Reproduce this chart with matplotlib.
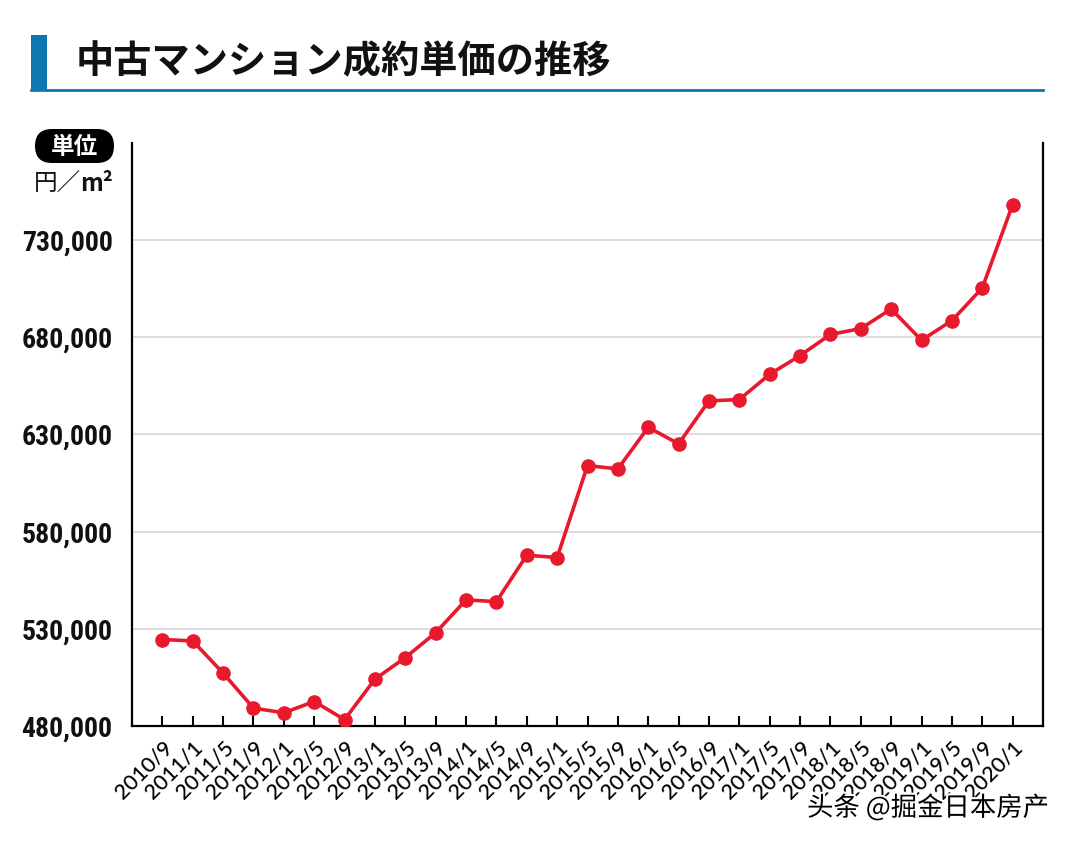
import matplotlib
matplotlib.use('Agg')
import matplotlib.pyplot as plt
from matplotlib.patches import Rectangle, FancyBboxPatch
from matplotlib.lines import Line2D
from matplotlib import font_manager
import matplotlib.patheffects as pe

# ---- data ----
periods = ["2010/9", "2011/1", "2011/5", "2011/9", "2012/1", "2012/5", "2012/9",
           "2013/1", "2013/5", "2013/9", "2014/1", "2014/5", "2014/9", "2015/1",
           "2015/5", "2015/9", "2016/1", "2016/5", "2016/9", "2017/1", "2017/5",
           "2017/9", "2018/1", "2018/5", "2018/9", "2019/1", "2019/5", "2019/9",
           "2020/1"]
prices = [524500, 523800, 507200, 489200, 486800, 492600, 483300,
          504100, 515200, 528000, 544900, 544000, 567900, 566700,
          614000, 612300, 633700, 625200, 647300, 648000, 661000,
          670600, 681500, 684500, 694600, 678500, 688600, 705400,
          748300]
yticks = [480000, 530000, 580000, 630000, 680000, 730000]
ytick_labels = ["480,000", "530,000", "580,000", "630,000", "680,000", "730,000"]
title = "中古マンション成約単価の推移"
unit_badge = "単位"
watermark = "头条 @掘金日本房产"

W, H = 1080, 846
fig = plt.figure(figsize=(W / 100, H / 100), dpi=100)


def fx(x):
    return x / W


def fy(y):
    return 1 - y / H


names = {f.name for f in font_manager.fontManager.ttflist}
if 'Roboto Condensed' in names:
    cond_font, ysize = 'Roboto Condensed', 20
elif 'Liberation Sans Narrow' in names:
    cond_font, ysize = 'Liberation Sans Narrow', 20
else:
    cond_font, ysize = 'Roboto', 15
jp = ['Noto Sans CJK JP', 'DejaVu Sans']

red = '#E8192C'
blue = '#0E77B0'

ax = fig.add_axes([fx(132), fy(726), fx(1043) - fx(132), fy(143) - fy(726)])
x = list(range(len(periods)))
ax.plot(x, prices, color=red, lw=2.6, marker='o', ms=9.5, mfc=red, mec=red, zorder=3,
        solid_joinstyle='miter')
ax.set_xlim(-1, len(periods))
ax.set_ylim(480000, 780000)
ax.set_yticks(yticks)
ax.set_yticklabels(ytick_labels)
ax.set_xticks(x)
ax.set_xticklabels(periods, rotation=45, ha='right', rotation_mode='anchor',
                   family=['Lato', 'DejaVu Sans'], fontsize=15.5, fontweight='medium')
ax.tick_params(axis='x', direction='in', length=7, width=1.5, pad=8)
ax.tick_params(axis='y', length=0, pad=14)
for lab in ax.get_yticklabels():
    lab.set_family([cond_font, 'DejaVu Sans'])
    lab.set_fontweight('bold')
    lab.set_fontsize(ysize)
    lab.set_color('#111111')
ax.grid(axis='y', color='#DDDDDD', lw=1.4)
ax.set_axisbelow(True)
ax.spines['top'].set_visible(False)
for s in ['left', 'right', 'bottom']:
    ax.spines[s].set_linewidth(1.6)
    ax.spines[s].set_color('black')

# ---- title decoration ----
fig.add_artist(Rectangle((fx(31), fy(91)), fx(47) - fx(31), fy(35) - fy(91),
                         transform=fig.transFigure, color=blue, lw=0))
fig.add_artist(Line2D([fx(31), fx(1043)], [fy(90.5), fy(90.5)],
                      transform=fig.transFigure, color=blue, lw=2))
fig.text(fx(76), fy(62), title, family=jp, fontweight='bold', fontsize=27.5,
         va='center', ha='left', color='#111111')

# ---- unit badge ----
tr = fig.dpi_scale_trans
bx0, bx1, by0, by1 = 35, 114, 129, 163
fig.add_artist(FancyBboxPatch((bx0 / 100, (H - by1) / 100), (bx1 - bx0) / 100, (by1 - by0) / 100,
                              boxstyle='round,pad=0,rounding_size=0.17',
                              transform=tr, fc='black', ec='none'))
fig.text(fx((bx0 + bx1) / 2), fy((by0 + by1) / 2 + 1), unit_badge, family=jp, fontweight='bold',
         fontsize=17, color='white', ha='center', va='center')
fig.text(fx(34), fy(184), "円／", family=jp, fontsize=17, ha='left', va='center', color='#111111')
fig.text(fx(80), fy(184), "m²", family=jp, fontweight='bold', fontsize=17, ha='left', va='center',
         color='#111111')

# ---- watermark ----
fig.text(fx(928), fy(808), watermark, family=['Noto Sans CJK SC', 'DejaVu Sans'], fontsize=19,
         ha='center', va='center', color='black',
         path_effects=[pe.withStroke(linewidth=3, foreground='white')])

fig.savefig('out.png', dpi=100)
